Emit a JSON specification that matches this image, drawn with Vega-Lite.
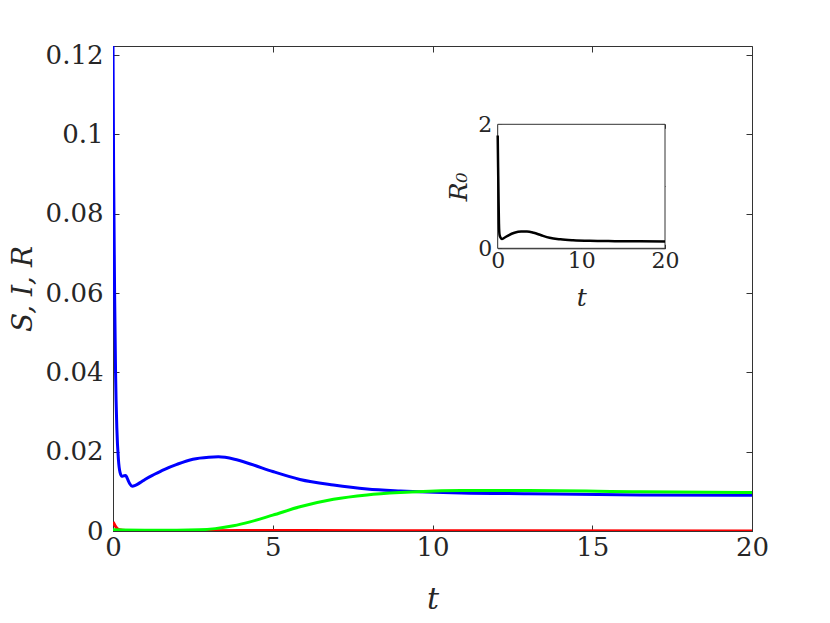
{
  "$schema": "https://vega.github.io/schema/vega-lite/v6.json",
  "width": 639,
  "height": 485,
  "autosize": "none",
  "padding": {"left": 113, "top": 46, "right": 78, "bottom": 92},
  "background": "white",
  "config": {
    "view": {"stroke": "#333333", "strokeWidth": 1},
    "font": "DejaVu Serif",
    "axis": {
      "labelFont": "DejaVu Serif",
      "titleFont": "DejaVu Serif",
      "labelColor": "#262626",
      "titleColor": "#262626",
      "domainColor": "#333333",
      "tickColor": "#333333",
      "grid": false,
      "tickSize": -6,
      "labelFlush": false,
      "labelOverlap": false,
      "labelFontWeight": "normal",
      "titleFontWeight": "normal"
    }
  },
  "resolve": {"scale": {"x": "independent", "y": "independent", "color": "independent"}, "axis": {"x": "independent", "y": "independent"}},
  "layer": [
    {
      "data": {"values": [
        {"t": 0, "v": 0.1223, "s": "S"},
        {"t": 0.02, "v": 0.09, "s": "S"},
        {"t": 0.05, "v": 0.06, "s": "S"},
        {"t": 0.08, "v": 0.04, "s": "S"},
        {"t": 0.12, "v": 0.026, "s": "S"},
        {"t": 0.17, "v": 0.018, "s": "S"},
        {"t": 0.22, "v": 0.0148, "s": "S"},
        {"t": 0.28, "v": 0.0138, "s": "S"},
        {"t": 0.33, "v": 0.0139, "s": "S"},
        {"t": 0.4, "v": 0.014, "s": "S"},
        {"t": 0.45, "v": 0.0132, "s": "S"},
        {"t": 0.52, "v": 0.012, "s": "S"},
        {"t": 0.6, "v": 0.0113, "s": "S"},
        {"t": 0.7, "v": 0.0115, "s": "S"},
        {"t": 0.85, "v": 0.0122, "s": "S"},
        {"t": 1.0, "v": 0.013, "s": "S"},
        {"t": 1.3, "v": 0.0143, "s": "S"},
        {"t": 1.6, "v": 0.0155, "s": "S"},
        {"t": 2.0, "v": 0.0168, "s": "S"},
        {"t": 2.5, "v": 0.0181, "s": "S"},
        {"t": 3.0, "v": 0.0186, "s": "S"},
        {"t": 3.3, "v": 0.0187, "s": "S"},
        {"t": 3.8, "v": 0.0181, "s": "S"},
        {"t": 4.3, "v": 0.0169, "s": "S"},
        {"t": 5.0, "v": 0.015, "s": "S"},
        {"t": 5.85, "v": 0.013, "s": "S"},
        {"t": 6.9, "v": 0.0116, "s": "S"},
        {"t": 7.95, "v": 0.0106, "s": "S"},
        {"t": 9.0, "v": 0.0101, "s": "S"},
        {"t": 10.9, "v": 0.0096, "s": "S"},
        {"t": 13, "v": 0.0094, "s": "S"},
        {"t": 16.5, "v": 0.0091, "s": "S"},
        {"t": 20, "v": 0.009, "s": "S"},
        {"t": 0, "v": 0.0023, "s": "I"},
        {"t": 0.05, "v": 0.0016, "s": "I"},
        {"t": 0.1, "v": 0.0009, "s": "I"},
        {"t": 0.2, "v": 0.0003, "s": "I"},
        {"t": 0.4, "v": 0.0001, "s": "I"},
        {"t": 2, "v": 0.00005, "s": "I"},
        {"t": 4, "v": 0.0001, "s": "I"},
        {"t": 6, "v": 0.0001, "s": "I"},
        {"t": 10, "v": 0.00005, "s": "I"},
        {"t": 20, "v": 0.0, "s": "I"},
        {"t": 0, "v": 0.0003, "s": "R"},
        {"t": 1, "v": 0.0002, "s": "R"},
        {"t": 2, "v": 0.0002, "s": "R"},
        {"t": 2.7, "v": 0.0003, "s": "R"},
        {"t": 3.2, "v": 0.0006, "s": "R"},
        {"t": 3.77, "v": 0.0013, "s": "R"},
        {"t": 4.29, "v": 0.0023, "s": "R"},
        {"t": 5.0, "v": 0.004, "s": "R"},
        {"t": 5.85, "v": 0.0061, "s": "R"},
        {"t": 6.9, "v": 0.008, "s": "R"},
        {"t": 7.95, "v": 0.0091, "s": "R"},
        {"t": 9.0, "v": 0.0097, "s": "R"},
        {"t": 9.5, "v": 0.0099, "s": "R"},
        {"t": 10.9, "v": 0.0102, "s": "R"},
        {"t": 13, "v": 0.0102, "s": "R"},
        {"t": 16.5, "v": 0.0099, "s": "R"},
        {"t": 20, "v": 0.0097, "s": "R"}
      ]},
      "mark": {"type": "line", "strokeWidth": 3, "clip": true, "interpolate": "monotone"},
      "encoding": {
        "x": {"field": "t", "type": "quantitative", "scale": {"domain": [0, 20], "nice": false},
          "axis": {"orient": "bottom", "values": [0, 5, 10, 15, 20], "labelFontSize": 26, "labelPadding": 9, "title": "t", "titleFontStyle": "italic", "titleFontSize": 30, "titlePadding": 24}},
        "y": {"field": "v", "type": "quantitative", "scale": {"domain": [0, 0.1223], "nice": false, "zero": false},
          "axis": {"orient": "left", "values": [0, 0.02, 0.04, 0.06, 0.08, 0.1, 0.12], "format": "~g", "labelFontSize": 26, "labelPadding": 16, "title": "S, I, R", "titleFontStyle": "italic", "titleFontSize": 28, "titlePadding": 8}},
        "color": {"field": "s", "type": "nominal", "scale": {"domain": ["S", "I", "R"], "range": ["#0000ff", "#ff0000", "#00ff00"]}, "legend": null},
        "order": {"field": "t", "type": "quantitative"}
      }
    },
    {
      "data": {"values": [{"t": 0, "v": 0}, {"t": 20, "v": 0.1223}]},
      "mark": {"type": "line", "strokeOpacity": 0},
      "encoding": {
        "x": {"field": "t", "type": "quantitative", "scale": {"domain": [0, 20], "nice": false},
          "axis": {"orient": "top", "values": [0, 5, 10, 15, 20], "labels": false, "domain": false, "title": null}},
        "y": {"field": "v", "type": "quantitative", "scale": {"domain": [0, 0.1223], "nice": false},
          "axis": {"orient": "right", "values": [0, 0.02, 0.04, 0.06, 0.08, 0.1, 0.12], "labels": false, "domain": false, "title": null}}
      }
    },
    {
      "data": {"values": [{"x0": 0, "x1": 20, "y0": 0, "y1": 2}]},
      "mark": {"type": "rect", "fill": "white", "stroke": "#333333", "strokeWidth": 1},
      "encoding": {
        "x": {"field": "x0", "type": "quantitative", "scale": {"domain": [0, 20], "nice": false, "range": [384.7, 552]},
          "axis": {"orient": "top", "offset": -78.3, "values": [0, 10, 20], "labels": false, "domain": false, "title": null, "tickSize": -4}},
        "x2": {"field": "x1"},
        "y": {"field": "y0", "type": "quantitative", "scale": {"domain": [0, 2], "nice": false, "range": [202.3, 78.3]},
          "axis": {"orient": "right", "offset": -87, "values": [0, 1, 2], "labels": false, "domain": false, "title": null, "tickSize": -4}},
        "y2": {"field": "y1"}
      }
    },
    {
      "data": {"values": [
        {"t": 0, "r": 1.82},
        {"t": 0.05, "r": 1.3},
        {"t": 0.1, "r": 0.8},
        {"t": 0.15, "r": 0.4},
        {"t": 0.22, "r": 0.22},
        {"t": 0.35, "r": 0.17},
        {"t": 0.5, "r": 0.15},
        {"t": 0.8, "r": 0.17},
        {"t": 1.3, "r": 0.21},
        {"t": 2.0, "r": 0.25},
        {"t": 2.8, "r": 0.27},
        {"t": 3.5, "r": 0.27},
        {"t": 4.3, "r": 0.25},
        {"t": 5.2, "r": 0.21},
        {"t": 6.2, "r": 0.17},
        {"t": 7.5, "r": 0.145},
        {"t": 9.0, "r": 0.13},
        {"t": 11, "r": 0.12},
        {"t": 14, "r": 0.115},
        {"t": 17, "r": 0.112},
        {"t": 20, "r": 0.11}
      ]},
      "mark": {"type": "line", "color": "black", "strokeWidth": 2.5, "interpolate": "monotone"},
      "encoding": {
        "x": {"field": "t", "type": "quantitative", "scale": {"domain": [0, 20], "nice": false, "range": [384.7, 552]},
          "axis": {"orient": "bottom", "offset": -282.7, "values": [0, 10, 20], "labelFontSize": 22, "labelPadding": 6, "title": "t", "titleFontStyle": "italic", "titleFontSize": 25, "titlePadding": 14, "tickSize": -4}},
        "y": {"field": "r", "type": "quantitative", "scale": {"domain": [0, 2], "nice": false, "range": [202.3, 78.3]},
          "axis": {"orient": "left", "offset": -384.7, "values": [0, 1, 2], "format": "d", "labelFontSize": 22, "labelPadding": 10, "title": "R₀", "titleFontStyle": "italic", "titleFontSize": 25, "titlePadding": 6, "tickSize": -4}}
      }
    }
  ]
}
